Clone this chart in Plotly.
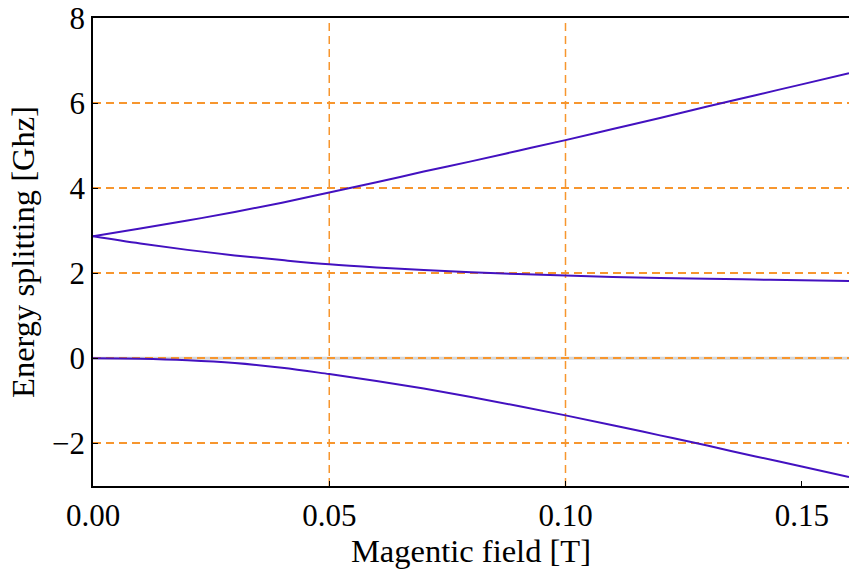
import plotly.graph_objects as go

# Data
field_T = [0.00, 0.01, 0.02, 0.03, 0.04, 0.05, 0.06, 0.07, 0.08, 0.09,
           0.10, 0.11, 0.12, 0.13, 0.14, 0.15, 0.16]
upper_GHz = [2.87, 3.05, 3.24, 3.44, 3.66, 3.90, 4.14, 4.39, 4.63, 4.88,
             5.13, 5.39, 5.65, 5.92, 6.18, 6.44, 6.70]
middle_GHz = [2.87, 2.70, 2.55, 2.42, 2.31, 2.21, 2.135, 2.075, 2.025, 1.98,
              1.945, 1.915, 1.89, 1.87, 1.853, 1.836, 1.82]
lower_GHz = [0.00, -0.01, -0.045, -0.11, -0.22, -0.37, -0.53, -0.71, -0.91, -1.12,
             -1.34, -1.57, -1.81, -2.05, -2.30, -2.54, -2.79]

x_ticks = [0.00, 0.05, 0.10, 0.15]
x_tick_labels = ["0.00", "0.05", "0.10", "0.15"]
y_ticks = [-2, 0, 2, 4, 6, 8]
x_grid = [0.05, 0.10]

LINE = "#4311C0"
GRID = "#F7962E"
FONT = "Liberation Serif"

fig = go.Figure()
for ys in (upper_GHz, middle_GHz, lower_GHz):
    fig.add_trace(go.Scatter(x=field_T, y=ys, mode="lines",
                             line=dict(color=LINE, width=2, shape="spline", smoothing=1.0),
                             showlegend=False, hoverinfo="skip"))

# light grey zero line beneath the dashed grid
fig.add_shape(type="line", xref="paper", x0=0, x1=1, yref="y", y0=0, y1=0,
              line=dict(color="#d6d6d6", width=3), layer="below")
for gx in x_grid:
    fig.add_shape(type="line", xref="x", x0=gx, x1=gx, yref="paper", y0=0, y1=1,
                  line=dict(color=GRID, width=1.5, dash="8px,5px"), layer="below")

fig.update_layout(
    width=849, height=574,
    margin=dict(l=93, r=0, t=18, b=88),
    paper_bgcolor="white", plot_bgcolor="white",
    font=dict(family=FONT, size=31, color="black"),
)
fig.update_xaxes(
    range=[0, 0.16], tickvals=x_ticks, ticktext=x_tick_labels,
    automargin=False, ticklabeloverflow="allow",
    showgrid=False, zeroline=False,
    showline=True, linecolor="black", linewidth=1.5, mirror=True,
    ticks="inside", ticklen=5, tickcolor="black",
    tickfont=dict(family=FONT, size=31), ticklabelstandoff=1,
    title=dict(text="Magentic field [T]", standoff=0, font=dict(family=FONT, size=32.5)),
)
fig.update_yaxes(
    range=[-3, 8], tickvals=y_ticks,
    automargin=False, ticklabeloverflow="allow",
    showgrid=True, gridcolor=GRID, gridwidth=1.5, griddash="8px,5px",
    zeroline=False,
    showline=True, linecolor="black", linewidth=1.5, mirror=False,
    ticks="inside", ticklen=5, tickcolor="black",
    tickfont=dict(family=FONT, size=31), ticklabelstandoff=0,
    title=dict(text="Energy splitting [Ghz]", standoff=8, font=dict(family=FONT, size=32.5)),
)

fig.write_html(
    "out.html",
    config={"displayModeBar": False},
    post_script=(
        "document.body.style.margin='0';"
        "document.body.style.overflow='hidden';"
        "document.documentElement.style.overflow='hidden';"
    ),
)
